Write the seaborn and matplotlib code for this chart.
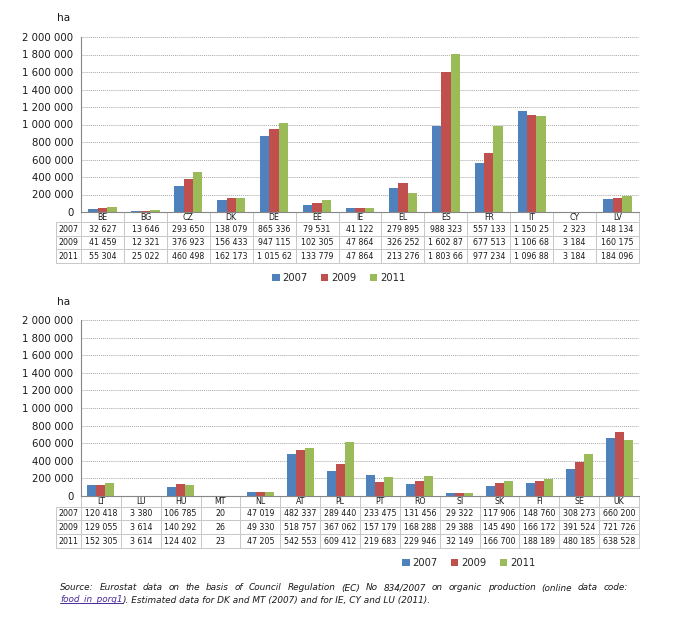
import matplotlib
matplotlib.use("Agg")
import matplotlib.pyplot as plt
from matplotlib.lines import Line2D
from matplotlib.patches import Patch
from matplotlib.ticker import FuncFormatter, MultipleLocator
import seaborn as sns
import pandas as pd

# ---------------- data ----------------
years = ["2007", "2009", "2011"]

top_countries = ["BE", "BG", "CZ", "DK", "DE", "EE", "IE", "EL", "ES", "FR", "IT", "CY", "LV"]
top_2007 = [32627, 13646, 293650, 138079, 865336, 79531, 41122, 279895, 988323, 557133, 1150253, 2323, 148134]
top_2009 = [41459, 12321, 376923, 156433, 947115, 102305, 47864, 326252, 1602871, 677513, 1106684, 3184, 160175]
top_2011 = [55304, 25022, 460498, 162173, 1015626, 133779, 47864, 213276, 1803662, 977234, 1096889, 3184, 184096]

bot_countries = ["LT", "LU", "HU", "MT", "NL", "AT", "PL", "PT", "RO", "SI", "SK", "FI", "SE", "UK"]
bot_2007 = [120418, 3380, 106785, 20, 47019, 482337, 289440, 233475, 131456, 29322, 117906, 148760, 308273, 660200]
bot_2009 = [129055, 3614, 140292, 26, 49330, 518757, 367062, 157179, 168288, 29388, 145490, 166172, 391524, 721726]
bot_2011 = [152305, 3614, 124402, 23, 47205, 542553, 609412, 219683, 229946, 32149, 166700, 188189, 480185, 638528]

unit_label = "ha"
source_line1 = "Source: Eurostat data on the basis of Council Regulation (EC) No 834/2007 on organic production (online data code:"
source_link = "food_in_porg1"
source_rest = "). Estimated data for DK and MT (2007) and for IE, CY and LU (2011)."

colors = ["#4F81BD", "#C0504D", "#9BBB59"]

# ---------------- helpers ----------------
def fmt_num(v):
    return f"{int(v):,}".replace(",", " ")

def cell_str(v):
    s = fmt_num(v)
    return s[:8]  # clipped like in the original spreadsheet table

W, H = 693, 617
sns.set_style("white")
plt.rcParams["font.family"] = ["DejaVu Sans"]
fig = plt.figure(figsize=(W / 100, H / 100), dpi=100)

def frac_box(x0, y_top, x1, y_bot):
    return [x0 / W, 1 - y_bot / H, (x1 - x0) / W, (y_bot - y_top) / H]

def draw_panel(ax, countries, series, table_bottom_px, axis_bottom_px, width):
    df = pd.DataFrame({
        "country": countries * 3,
        "year": sum([[y] * len(countries) for y in years], []),
        "value": sum(series, []),
    })
    sns.barplot(data=df, x="country", y="value", hue="year", order=countries,
                hue_order=years, palette=colors, width=width, gap=0,
                saturation=1, ax=ax, legend=False, linewidth=0)
    ax.set_ylim(0, 2_000_000)
    ax.set_xlim(-0.5, len(countries) - 0.5)
    ax.yaxis.set_major_locator(MultipleLocator(200_000))
    ax.yaxis.set_major_formatter(FuncFormatter(lambda v, p: fmt_num(v)))
    ax.tick_params(axis="y", labelsize=7.3, length=2.5, width=0.8, color="#868686",
                   pad=3, labelcolor="#1a1a1a")
    ax.set_xticks([])
    ax.set_xlabel("")
    ax.set_ylabel("")
    ax.grid(axis="y", color="#a8a8a8", linestyle=(0, (1, 1)), linewidth=0.7)
    ax.set_axisbelow(True)
    for s in ["top", "right"]:
        ax.spines[s].set_visible(False)
    for s in ["left", "bottom"]:
        ax.spines[s].set_color("#868686")
        ax.spines[s].set_linewidth(0.8)

    # data table under the axis
    n = len(countries)
    cat_w = 558 / n
    lab_w = 25
    total = lab_w + 558
    ax_h_px = ax.get_position().height * H
    tb_h = (table_bottom_px - axis_bottom_px) / ax_h_px
    cell_text = [[y] + [cell_str(v) for v in s] for y, s in zip(years, series)]
    tbl = ax.table(cellText=cell_text, colLabels=[""] + countries,
                   colWidths=[lab_w / total] + [cat_w / total] * n,
                   cellLoc="center",
                   bbox=[-lab_w / 558, -tb_h, total / 558, tb_h])
    tbl.auto_set_font_size(False)
    tbl.set_fontsize(5.7)
    for (r, c), cell in tbl.get_celld().items():
        cell.set_edgecolor("#c8c8c8")
        cell.set_linewidth(0.7)
        cell.get_text().set_color("#1a1a1a")
        cell.set_height(10.5 if r == 0 else 13.7)
        if r == 0:
            cell.visible_edges = "BLR" if c > 0 else ""
    return tbl

# top panel
ax1 = fig.add_axes(frac_box(81, 37, 639, 212))
draw_panel(ax1, top_countries, [top_2007, top_2009, top_2011], 263, 212, 0.66)
fig.text(57 / W, 1 - 18 / H, unit_label, fontsize=7.6, va="center", ha="left", color="#1a1a1a")

# bottom panel
ax2 = fig.add_axes(frac_box(81, 320, 639, 496))
draw_panel(ax2, bot_countries, [bot_2007, bot_2009, bot_2011], 548, 496, 0.68)
fig.text(57 / W, 1 - 302 / H, unit_label, fontsize=7.6, va="center", ha="left", color="#1a1a1a")

# legends
handles = [Patch(facecolor=c, edgecolor="none", label=y) for c, y in zip(colors, years)]
for x_px, y_px in [(272, 278), (402, 563)]:
    fig.legend(handles=handles, loc="center left", bbox_to_anchor=(x_px / W, 1 - y_px / H),
               ncol=3, frameon=False, fontsize=7.2, handlelength=0.75, handleheight=0.75,
               handletextpad=0.3, columnspacing=1.3, borderpad=0, borderaxespad=0)

# source note (first line justified)
fs = 6.4
x_left, x_right = 60, 628
y1 = 1 - 588 / H
y2 = 1 - 600 / H
fig.canvas.draw()
r = fig.canvas.get_renderer()
words = source_line1.split(" ")
word_artists = [fig.text(0, y1, w, fontsize=fs, style="italic", va="center", ha="left",
                         color="#1a1a1a") for w in words]
widths = [a.get_window_extent(r).width for a in word_artists]
gap = (x_right - x_left - sum(widths)) / (len(words) - 1)
x = x_left
for a, w in zip(word_artists, widths):
    a.set_x(x / W)
    x += w + gap

link = fig.text(x_left / W, y2, source_link, fontsize=fs, style="italic", va="center", ha="left",
                color="#4B2A9A")
bb = link.get_window_extent(r)
fig.text(bb.x1 / W, y2, source_rest, fontsize=fs, style="italic", va="center", ha="left", color="#1a1a1a")
fig.add_artist(Line2D([bb.x0 / W, bb.x1 / W], [(bb.y0 + 1.5) / H] * 2, color="#4B2A9A", linewidth=0.7))

fig.savefig("out.png", dpi=100)
